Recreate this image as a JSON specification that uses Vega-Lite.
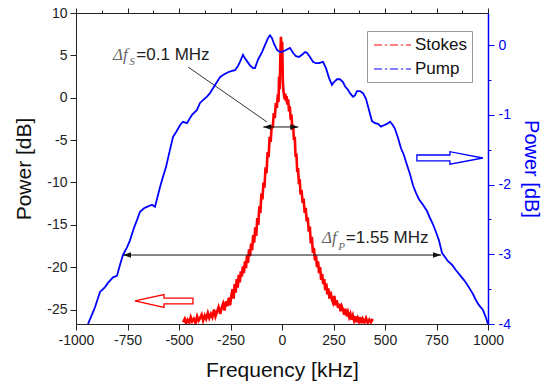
{
  "$schema": "https://vega.github.io/schema/vega-lite/v6.json",
  "width": 412,
  "height": 311,
  "autosize": {"type": "none"},
  "padding": {"left": 76, "top": 13, "right": 60, "bottom": 66},
  "background": "white",
  "config": {
    "font": "Liberation Sans",
    "view": {"stroke": null},
    "axis": {
      "grid": false,
      "labelFont": "Liberation Sans",
      "labelFontSize": 14,
      "labelColor": "#222",
      "titleFont": "Liberation Sans",
      "titleFontSize": 21,
      "titleFontWeight": "normal",
      "titleColor": "#111",
      "domainColor": "#222",
      "tickColor": "#222",
      "labelOverlap": false,
      "labelFlush": false
    }
  },
  "datasets": {
    "stokes": [
      {"x":-480,"y":-26.5},{"x":-472,"y":-26.1},{"x":-465,"y":-26.6},{"x":-458,"y":-26.2},{"x":-450,"y":-26.5},{"x":-443,"y":-25.9},{"x":-436,"y":-26.4},{"x":-428,"y":-26.1},{"x":-420,"y":-26.6},{"x":-412,"y":-25.8},{"x":-405,"y":-26.3},{"x":-398,"y":-26.0},{"x":-390,"y":-25.6},{"x":-383,"y":-26.3},{"x":-375,"y":-25.7},{"x":-368,"y":-26.1},{"x":-360,"y":-25.4},{"x":-353,"y":-26.0},{"x":-345,"y":-25.5},{"x":-338,"y":-25.9},{"x":-330,"y":-25.0},{"x":-323,"y":-25.8},{"x":-315,"y":-25.2},{"x":-308,"y":-24.7},{"x":-300,"y":-25.5},{"x":-293,"y":-24.8},{"x":-286,"y":-24.3},{"x":-279,"y":-25.1},{"x":-272,"y":-24.0},{"x":-265,"y":-24.6},{"x":-258,"y":-23.6},{"x":-252,"y":-24.5},{"x":-246,"y":-23.3},{"x":-240,"y":-22.6},{"x":-235,"y":-23.7},{"x":-230,"y":-22.0},{"x":-225,"y":-23.0},{"x":-220,"y":-21.4},{"x":-215,"y":-22.4},{"x":-210,"y":-20.9},{"x":-205,"y":-21.8},{"x":-200,"y":-20.5},{"x":-195,"y":-21.1},{"x":-190,"y":-19.9},{"x":-185,"y":-20.7},{"x":-180,"y":-19.3},{"x":-175,"y":-20.1},{"x":-170,"y":-18.6},{"x":-165,"y":-19.5},{"x":-160,"y":-17.9},{"x":-155,"y":-18.7},{"x":-150,"y":-17.2},{"x":-145,"y":-18.0},{"x":-140,"y":-16.2},{"x":-135,"y":-17.1},{"x":-130,"y":-15.3},{"x":-125,"y":-16.3},{"x":-120,"y":-14.2},{"x":-115,"y":-15.0},{"x":-110,"y":-12.8},{"x":-105,"y":-13.6},{"x":-100,"y":-11.3},{"x":-95,"y":-12.0},{"x":-90,"y":-10.0},{"x":-85,"y":-10.6},{"x":-80,"y":-8.2},{"x":-75,"y":-8.9},{"x":-70,"y":-6.4},{"x":-65,"y":-7.0},{"x":-60,"y":-4.6},{"x":-55,"y":-5.2},{"x":-50,"y":-3.3},{"x":-45,"y":-3.6},{"x":-40,"y":-1.8},{"x":-35,"y":-2.4},{"x":-30,"y":-0.6},{"x":-25,"y":-1.2},{"x":-20,"y":0.4},{"x":-17,"y":-0.5},{"x":-14,"y":2.5},{"x":-11,"y":1.0},{"x":-8,"y":5.0},{"x":-5,"y":7.2},{"x":-2,"y":4.5},{"x":1,"y":6.6},{"x":4,"y":2.0},{"x":7,"y":0.8},{"x":10,"y":0.3},{"x":13,"y":-0.2},{"x":16,"y":0.5},{"x":19,"y":-0.4},{"x":22,"y":0.2},{"x":26,"y":-0.8},{"x":30,"y":-0.2},{"x":34,"y":-1.6},{"x":38,"y":-1.0},{"x":42,"y":-2.6},{"x":46,"y":-2.0},{"x":50,"y":-3.8},{"x":54,"y":-3.2},{"x":58,"y":-5.0},{"x":62,"y":-4.6},{"x":66,"y":-7.0},{"x":70,"y":-6.6},{"x":74,"y":-8.8},{"x":78,"y":-8.3},{"x":82,"y":-10.2},{"x":86,"y":-9.6},{"x":90,"y":-11.4},{"x":95,"y":-10.9},{"x":100,"y":-12.4},{"x":105,"y":-11.9},{"x":110,"y":-13.6},{"x":115,"y":-13.0},{"x":120,"y":-14.6},{"x":125,"y":-14.1},{"x":130,"y":-15.8},{"x":135,"y":-15.2},{"x":140,"y":-17.2},{"x":145,"y":-16.4},{"x":150,"y":-18.3},{"x":155,"y":-17.7},{"x":160,"y":-19.2},{"x":165,"y":-18.6},{"x":170,"y":-20.0},{"x":175,"y":-19.3},{"x":180,"y":-20.7},{"x":185,"y":-20.0},{"x":190,"y":-21.5},{"x":195,"y":-20.8},{"x":200,"y":-22.0},{"x":205,"y":-21.4},{"x":210,"y":-22.7},{"x":215,"y":-21.9},{"x":220,"y":-23.2},{"x":225,"y":-22.5},{"x":230,"y":-23.7},{"x":236,"y":-22.9},{"x":242,"y":-23.8},{"x":248,"y":-24.2},{"x":254,"y":-23.4},{"x":260,"y":-24.5},{"x":266,"y":-23.9},{"x":272,"y":-24.8},{"x":278,"y":-24.3},{"x":284,"y":-25.2},{"x":290,"y":-24.6},{"x":296,"y":-25.0},{"x":302,"y":-25.6},{"x":308,"y":-24.9},{"x":314,"y":-25.8},{"x":320,"y":-25.3},{"x":326,"y":-25.9},{"x":332,"y":-25.5},{"x":338,"y":-26.2},{"x":344,"y":-25.7},{"x":350,"y":-26.3},{"x":356,"y":-25.8},{"x":362,"y":-26.5},{"x":368,"y":-26.0},{"x":374,"y":-26.4},{"x":380,"y":-25.9},{"x":386,"y":-26.6},{"x":392,"y":-26.1},{"x":400,"y":-26.5},{"x":408,"y":-26.0},{"x":416,"y":-26.6},{"x":424,"y":-26.2},{"x":432,"y":-26.5},{"x":440,"y":-26.1}
    ],
    "pump": [
      {"x":-941.8,"v":-4.0},{"x":-917.5,"v":-3.83},{"x":-907.8,"v":-3.76},{"x":-883.5,"v":-3.54},{"x":-859.2,"v":-3.47},{"x":-844.7,"v":-3.41},{"x":-820.4,"v":-3.33},{"x":-801.0,"v":-3.31},{"x":-786.4,"v":-3.15},{"x":-771.9,"v":-3.01},{"x":-752.4,"v":-2.9},{"x":-737.9,"v":-2.8},{"x":-718.5,"v":-2.62},{"x":-703.9,"v":-2.51},{"x":-689.3,"v":-2.39},{"x":-669.9,"v":-2.34},{"x":-655.4,"v":-2.32},{"x":-631.1,"v":-2.29},{"x":-616.5,"v":-2.32},{"x":-602.0,"v":-2.15},{"x":-592.3,"v":-2.04},{"x":-577.7,"v":-1.89},{"x":-563.1,"v":-1.75},{"x":-543.7,"v":-1.5},{"x":-529.2,"v":-1.32},{"x":-514.6,"v":-1.25},{"x":-495.2,"v":-1.15},{"x":-480.6,"v":-1.1},{"x":-461.2,"v":-1.12},{"x":-436.9,"v":-1.0},{"x":-412.7,"v":-0.93},{"x":-398.1,"v":-0.83},{"x":-383.5,"v":-0.79},{"x":-364.1,"v":-0.74},{"x":-349.6,"v":-0.69},{"x":-335.0,"v":-0.62},{"x":-315.6,"v":-0.53},{"x":-301.0,"v":-0.46},{"x":-286.5,"v":-0.43},{"x":-262.2,"v":-0.39},{"x":-242.8,"v":-0.37},{"x":-228.2,"v":-0.36},{"x":-213.7,"v":-0.3},{"x":-204.0,"v":-0.24},{"x":-189.4,"v":-0.14},{"x":-179.7,"v":-0.19},{"x":-170.0,"v":-0.23},{"x":-155.4,"v":-0.29},{"x":-140.8,"v":-0.33},{"x":-131.1,"v":-0.33},{"x":-116.6,"v":-0.21},{"x":-97.1,"v":-0.1},{"x":-82.6,"v":0.0},{"x":-68.0,"v":0.1},{"x":-58.3,"v":0.14},{"x":-48.6,"v":0.1},{"x":-38.9,"v":0.02},{"x":-24.3,"v":-0.07},{"x":-9.8,"v":-0.1},{"x":4.8,"v":-0.09},{"x":19.3,"v":-0.07},{"x":38.8,"v":-0.04},{"x":53.3,"v":-0.11},{"x":67.9,"v":-0.16},{"x":82.4,"v":-0.17},{"x":97.0,"v":-0.14},{"x":111.6,"v":-0.1},{"x":121.3,"v":-0.11},{"x":135.8,"v":-0.17},{"x":150.4,"v":-0.24},{"x":165.0,"v":-0.26},{"x":179.5,"v":-0.26},{"x":198.9,"v":-0.24},{"x":213.5,"v":-0.33},{"x":228.1,"v":-0.47},{"x":242.6,"v":-0.57},{"x":252.3,"v":-0.53},{"x":266.9,"v":-0.49},{"x":281.5,"v":-0.49},{"x":296.0,"v":-0.53},{"x":305.7,"v":-0.59},{"x":320.3,"v":-0.64},{"x":330.0,"v":-0.69},{"x":344.6,"v":-0.74},{"x":354.3,"v":-0.72},{"x":364.0,"v":-0.66},{"x":378.5,"v":-0.66},{"x":393.1,"v":-0.69},{"x":407.7,"v":-0.77},{"x":422.2,"v":-0.93},{"x":436.8,"v":-1.09},{"x":451.3,"v":-1.12},{"x":465.9,"v":-1.13},{"x":480.5,"v":-1.17},{"x":495.0,"v":-1.15},{"x":509.6,"v":-1.13},{"x":524.2,"v":-1.1},{"x":538.7,"v":-1.15},{"x":548.4,"v":-1.2},{"x":563.0,"v":-1.33},{"x":577.6,"v":-1.48},{"x":592.1,"v":-1.58},{"x":606.7,"v":-1.72},{"x":621.2,"v":-1.85},{"x":635.8,"v":-2.01},{"x":650.4,"v":-2.12},{"x":664.9,"v":-2.21},{"x":684.3,"v":-2.29},{"x":703.8,"v":-2.38},{"x":718.3,"v":-2.48},{"x":732.9,"v":-2.57},{"x":747.4,"v":-2.68},{"x":762.0,"v":-2.8},{"x":776.6,"v":-2.98},{"x":791.1,"v":-3.04},{"x":805.7,"v":-3.1},{"x":825.1,"v":-3.15},{"x":844.5,"v":-3.23},{"x":863.9,"v":-3.3},{"x":883.4,"v":-3.37},{"x":897.9,"v":-3.43},{"x":912.5,"v":-3.5},{"x":927.0,"v":-3.57},{"x":941.6,"v":-3.66},{"x":956.2,"v":-3.73},{"x":975.6,"v":-3.8},{"x":990.1,"v":-3.91},{"x":999.8,"v":-4.0}
    ]
  },
  "layer": [
    {
      "layer": [
        {
          "data": {"name": "stokes"},
          "mark": {"type": "line", "strokeWidth": 2.6, "clip": true},
          "encoding": {
            "x": {
              "field": "x", "type": "quantitative",
              "scale": {"domain": [-1000, 1000], "nice": false},
              "axis": {
                "orient": "bottom",
                "title": "Frequency [kHz]",
                "titlePadding": 12,
                "values": [-1000,-875,-750,-625,-500,-375,-250,-125,0,125,250,375,500,625,750,875,1000],
                "labelExpr": "datum.value % 250 == 0 ? '' + datum.value : ''",
                "tickSize": {"condition": {"test": "datum.value % 250 != 0", "value": 3}, "value": 6},
                "labelPadding": 3
              }
            },
            "y": {
              "field": "y", "type": "quantitative",
              "scale": {"domain": [-26.7, 10], "nice": false, "zero": false},
              "axis": {
                "orient": "left",
                "title": "Power [dB]",
                "titlePadding": 12,
                "values": [-25,-22.5,-20,-17.5,-15,-12.5,-10,-7.5,-5,-2.5,0,2.5,5,7.5,10],
                "labelExpr": "datum.value % 5 == 0 ? '' + datum.value : ''",
                "tickSize": {"condition": {"test": "datum.value % 5 != 0", "value": 3}, "value": 6},
                "labelPadding": 3
              }
            },
            "color": {
              "datum": "Stokes", "type": "nominal",
              "scale": {"domain": ["Stokes", "Pump"], "range": ["#ff0000", "#0000ff"]},
              "legend": {
                "title": null, "orient": "none", "legendX": 291, "legendY": 18,
                "symbolType": "M -0.875 0 L 3.75 0", "symbolSize": 256, "symbolStrokeWidth": 1.2,
                "symbolDash": [8, 3, 2, 3],
                "labelFont": "Liberation Sans", "labelFontSize": 17, "labelColor": "#111",
                "strokeColor": "#999", "fillColor": "white", "padding": 5,
                "rowPadding": 7, "labelOffset": 25, "labelLimit": 200
              }
            }
          }
        },
        {
          "data": {"values": [{"x": -456, "y": 3.63, "x2": -73, "y2": -2.86}]},
          "mark": {"type": "rule", "color": "#333", "strokeWidth": 1},
          "encoding": {
            "x": {"field": "x", "type": "quantitative"},
            "y": {"field": "y", "type": "quantitative"},
            "x2": {"field": "x2"},
            "y2": {"field": "y2"}
          }
        },
        {
          "data": {"values": [{"x": -91, "x2": 79, "y": -3.45}, {"x": -772, "x2": 772, "y": -18.56}]},
          "mark": {"type": "rule", "color": "#111", "strokeWidth": 1},
          "encoding": {
            "x": {"field": "x", "type": "quantitative"},
            "x2": {"field": "x2"},
            "y": {"field": "y", "type": "quantitative"}
          }
        },
        {
          "data": {"values": [{"x": -91, "y": -3.45}, {"x": -772, "y": -18.56}]},
          "mark": {"type": "point", "shape": "M 0 0 L 2 -0.7 L 2 0.7 Z", "size": 64, "filled": true, "color": "#111", "opacity": 1},
          "encoding": {
            "x": {"field": "x", "type": "quantitative"},
            "y": {"field": "y", "type": "quantitative"}
          }
        },
        {
          "data": {"values": [{"x": 79, "y": -3.45}, {"x": 772, "y": -18.56}]},
          "mark": {"type": "point", "shape": "M 0 0 L -2 -0.7 L -2 0.7 Z", "size": 64, "filled": true, "color": "#111", "opacity": 1},
          "encoding": {
            "x": {"field": "x", "type": "quantitative"},
            "y": {"field": "y", "type": "quantitative"}
          }
        },
        {
          "data": {"values": [{"x": -573, "y": -23.98}]},
          "mark": {"type": "point", "shape": "M 1 -0.1 L 0 -0.1 L 0 -0.22 L -1 0 L 0 0.22 L 0 0.1 L 1 0.1 Z", "size": 3364, "filled": false, "color": "#ff0000", "strokeWidth": 1.3, "opacity": 1},
          "encoding": {
            "x": {"field": "x", "type": "quantitative"},
            "y": {"field": "y", "type": "quantitative"}
          }
        },
        {
          "data": {"values": [{"x": 815, "y": -7.11}]},
          "mark": {"type": "point", "shape": "M -1 -0.09 L 0 -0.09 L 0 -0.19 L 1 0 L 0 0.19 L 0 0.09 L -1 0.09 Z", "size": 4356, "filled": false, "color": "#0000ff", "strokeWidth": 1.3, "opacity": 1},
          "encoding": {
            "x": {"field": "x", "type": "quantitative"},
            "y": {"field": "y", "type": "quantitative"}
          }
        },
        {
          "data": {"values": [{"x": -820, "y": 4.45, "t": "Δf"}, {"x": 194, "y": -17.14, "t": "Δf"}]},
          "mark": {"type": "text", "align": "left", "baseline": "alphabetic", "font": "Liberation Serif", "fontStyle": "italic", "fontSize": 17, "color": "#666"},
          "encoding": {
            "x": {"field": "x", "type": "quantitative"},
            "y": {"field": "y", "type": "quantitative"},
            "text": {"field": "t"}
          }
        },
        {
          "data": {"values": [{"x": -742, "y": 3.86, "t": "S"}, {"x": 273, "y": -17.97, "t": "P"}]},
          "mark": {"type": "text", "align": "left", "baseline": "alphabetic", "font": "Liberation Serif", "fontStyle": "italic", "fontSize": 11, "color": "#666"},
          "encoding": {
            "x": {"field": "x", "type": "quantitative"},
            "y": {"field": "y", "type": "quantitative"},
            "text": {"field": "t"}
          }
        },
        {
          "data": {"values": [{"x": -707, "y": 4.45, "t": "=0.1 MHz"}, {"x": 310, "y": -17.14, "t": "=1.55 MHz"}]},
          "mark": {"type": "text", "align": "left", "baseline": "alphabetic", "font": "Liberation Sans", "fontSize": 17, "color": "#222"},
          "encoding": {
            "x": {"field": "x", "type": "quantitative"},
            "y": {"field": "y", "type": "quantitative"},
            "text": {"field": "t"}
          }
        }
      ]
    },
    {
      "data": {"name": "pump"},
      "mark": {"type": "line", "strokeWidth": 1.8, "clip": true},
      "encoding": {
        "x": {
          "field": "x", "type": "quantitative",
          "scale": {"domain": [-1000, 1000], "nice": false},
          "axis": {
            "orient": "top",
            "title": null,
            "labels": false,
            "values": [-1000,-875,-750,-625,-500,-375,-250,-125,0,125,250,375,500,625,750,875,1000],
            "tickSize": {"condition": {"test": "datum.value % 250 != 0", "value": 3}, "value": 5}
          }
        },
        "y": {
          "field": "v", "type": "quantitative",
          "scale": {"domain": [-4, 0.46], "nice": false, "zero": false},
          "axis": {
            "orient": "right",
            "title": "Power [dB]",
            "titleFontSize": 20,
            "titleColor": "#0000ff",
            "titlePadding": 10,
            "values": [-4,-3.5,-3,-2.5,-2,-1.5,-1,-0.5,0],
            "labelExpr": "datum.value % 1 == 0 ? '' + datum.value : ''",
            "tickSize": {"condition": {"test": "datum.value % 1 != 0", "value": 3}, "value": 6},
            "labelColor": "#0000ff",
            "tickColor": "#0000ff",
            "domainColor": "#0000ff",
            "domainWidth": 1.5,
            "labelPadding": 4
          }
        },
        "color": {"datum": "Pump", "type": "nominal"}
      }
    }
  ],
  "resolve": {"scale": {"y": "independent"}, "axis": {"x": "independent"}}
}
